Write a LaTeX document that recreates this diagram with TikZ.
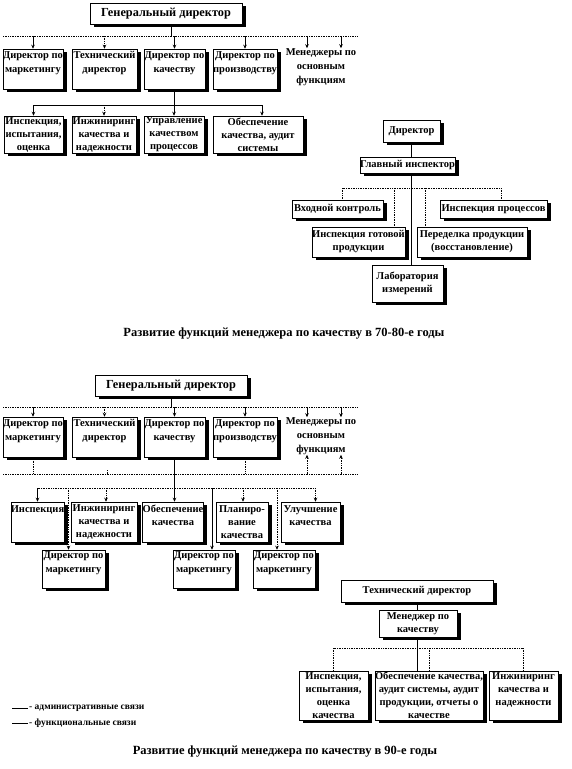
\documentclass[tikz,border=0pt]{standalone}
\usepackage{fontspec}
\setmainfont{Liberation Serif}
\usetikzlibrary{arrows.meta,shadows,backgrounds,calc}
\newcommand\bxfont{\fontsize{10.5}{13}\selectfont\bfseries}
\newcommand\rowfont{\fontsize{10.5}{14}\selectfont\bfseries}
\newcommand\bigfont{\fontsize{12.3}{14}\selectfont\bfseries}
\newcommand\capfont{\fontsize{12.5}{14}\selectfont\bfseries}
\newcommand\lgfont{\fontsize{9.5}{10}\selectfont\bfseries}
\newcommand\mybox[7][]{\node[bx,#1,minimum width={(#5)-(#3)},minimum height={(#6)-(#4)}] (#2) at ({((#3)+(#5))/2},{((#4)+(#6))/2}) {#7};}
\begin{document}
\begin{tikzpicture}[x=1pt,y=-1pt,
  bx/.style={draw=black,line width=0.5pt,fill=white,inner sep=0pt,align=center,font=\bxfont,
    drop shadow={shadow xshift=4pt,shadow yshift=-3pt,opacity=1,fill=black}},
  ln/.style={line width=0.7pt},
  dl/.style={line width=0.7pt,densely dotted},
  ar/.style={-{Stealth[length=4pt,width=3.5pt]}},
  txt/.style={align=center,font=\rowfont,inner sep=0pt}]
\path[use as bounding box] (0,0) rectangle (572,769);

% ===== Diagram 1 =====
\mybox[font=\bigfont]{gd1}{90}{3}{242}{24}{Генеральный директор}
\mybox[font=\rowfont]{m1}{3}{49}{63}{89}{Директор по\\маркетингу\\~}
\mybox[font=\rowfont]{m2}{72}{49}{137}{89}{Технический\\директор\\~}
\mybox[font=\rowfont]{m3}{144}{49}{205}{89}{Директор по\\качеству\\~}
\mybox[font=\rowfont]{m4}{213}{49}{277}{89}{Директор по\\производству\\~}
\node[txt] (mf1) at (321,67) {Менеджеры по\\основным\\функциям};
\mybox{i1}{4}{116}{63}{153}{Инспекция,\\испытания,\\оценка}
\mybox{i2}{72}{116}{136}{153}{Инжиниринг\\качества и\\надежности}
\mybox{i3}{144}{116}{204}{153}{Управление\\качеством\\процессов}
\mybox{i4}{213}{116}{303}{153}{Обеспечение\\качества, аудит\\системы}

\mybox{d}{383}{120}{440}{142}{Директор}
\mybox{gi}{360}{157}{455}{173}{Главный инспектор}
\mybox{vk}{292}{200}{383}{218}{Входной контроль}
\mybox{ip}{440}{200}{547}{218}{Инспекция процессов}
\mybox{ig}{312}{227}{405}{257}{Инспекция готовой\\продукции}
\mybox{pp}{417}{227}{527}{257}{Переделка продукции\\(восстановление)}
\mybox{lab}{372}{265}{443}{302}{Лаборатория\\измерений}

\node[font=\capfont] (cap1) at (284,334) {Развитие  функций менеджера по качеству в 70-80-е  годы};

% ===== Diagram 2 =====
\mybox[font=\bigfont]{gd2}{95}{375}{247}{396}{Генеральный директор}
\mybox[font=\rowfont]{n1}{3}{417}{63}{457}{Директор по\\маркетингу\\~}
\mybox[font=\rowfont]{n2}{72}{417}{137}{457}{Технический\\директор\\~}
\mybox[font=\rowfont]{n3}{144}{417}{205}{457}{Директор по\\качеству\\~}
\mybox[font=\rowfont]{n4}{213}{417}{277}{457}{Директор по\\производству\\~}
\node[txt] (mf2) at (321,436) {Менеджеры по\\основным\\функциям};

\mybox{p1}{11}{502}{64}{542}{Инспекция\\~\\~}
\mybox{p2}{71}{502}{137}{542}{Инжиниринг\\качества и\\надежности}
\mybox{p3}{143}{502}{203}{542}{Обеспечение\\качества\\~}
\mybox{p4}{216}{502}{268}{542}{Планиро-\\вание\\качества}
\mybox{p5}{281}{502}{340}{542}{Улучшение\\качества\\~}

\mybox[font=\rowfont]{q1}{42}{550}{105}{588}{Директор по\\маркетингу\\~}
\mybox[font=\rowfont]{q2}{173}{550}{235}{588}{Директор по\\маркетингу\\~}
\mybox[font=\rowfont]{q3}{253}{550}{315}{588}{Директор по\\маркетингу\\~}

\mybox{td}{341}{580}{493}{602}{Технический директор}
\mybox{mq}{379}{610}{457}{637}{Менеджер по\\качеству}
\mybox{r1}{299}{671}{368}{720}{Инспекция,\\испытания,\\оценка\\качества}
\mybox{r2}{376}{671}{482}{720}{Обеспечение качества,\\аудит системы, аудит\\продукции, отчеты о\\качестве}
\mybox{r3}{489}{671}{558}{720}{Инжиниринг\\качества и\\надежности\\~}

\node[font=\lgfont,anchor=west,inner sep=1pt] (lg1) at (28,708) {- административные связи};
\node[font=\lgfont,anchor=west,inner sep=1pt] (lg2) at (28,723) {- функциональные связи};
\coordinate (lg1a) at (12,708);
\coordinate (lg2a) at (12,723);

\node[font=\capfont] (cap2) at (285,752) {Развитие  функций менеджера по качеству в 90-е годы};

% ===== connectors =====
\begin{scope}[on background layer]
% diagram 1 top
\coordinate (b1L) at (3,36); \coordinate (b1R) at (357,36);
\coordinate (gd1c) at ([xshift=5pt]gd1.south);
\draw[dl] (b1L) -- (b1R);
\draw[ln] (gd1c) -- (gd1c |- b1L);
\draw[ln,ar] (m1.north |- b1L) -- (m1.north);
\draw[dl,ar] (m2.north |- b1L) -- (m2.north);
\draw[ln,ar] (m3.north |- b1L) -- (m3.north);
\draw[ln,ar] (m4.north |- b1L) -- (m4.north);
\coordinate (mfa) at ([xshift=-14pt]mf1.north);
\coordinate (mfb) at ([xshift=20pt]mf1.north);
\draw[ln,ar] (mfa |- b1L) -- (mfa);
\draw[ln,ar] (mfb |- b1L) -- (mfb);
% diagram 1 second level
\coordinate (b2) at (0,105);
\draw[ln] (m3.south) -- (m3.south |- b2);
\draw[ln] (i1.north |- b2) -- ([xshift=4pt]i4.north |- b2);
\draw[ln,ar] (i1.north |- b2) -- (i1.north);
\draw[dl,ar] (i2.north |- b2) -- (i2.north);
\draw[ln,ar] (i3.north |- b2) -- (i3.north);
\draw[ln,ar] ([xshift=4pt]i4.north |- b2) -- ([xshift=4pt]i4.north);
% right diagram
\draw[ln] (d.south) -- (d.south |- lab.north);
\coordinate (b3) at (0,188);
\coordinate (vkc) at ([xshift=5pt]vk.north);
\coordinate (ipc) at ([xshift=8pt]ip.north);
\coordinate (igc) at ([xshift=36pt]ig.north);
\coordinate (ppc) at ([xshift=-47pt]pp.north);
\draw[dl] (vkc |- b3) -- (ipc |- b3);
\draw[dl] (vkc |- b3) -- (vkc);
\draw[dl] (ipc |- b3) -- (ipc);
\draw[dl] (igc |- b3) -- (igc);
\draw[dl] (ppc |- b3) -- (ppc);
% diagram 2 top
\coordinate (c1L) at (3,407); \coordinate (c1R) at (357,407);
\draw[dl] (c1L) -- (c1R);
\draw[ln] (gd2.south) -- (gd2.south |- c1L);
\draw[ln,ar] (n1.north |- c1L) -- (n1.north);
\draw[dl,ar] (n2.north |- c1L) -- (n2.north);
\draw[ln,ar] (n3.north |- c1L) -- (n3.north);
\draw[ln,ar] (n4.north |- c1L) -- (n4.north);
\coordinate (mfc) at ([xshift=-14pt]mf2.north);
\coordinate (mfd) at ([xshift=20pt]mf2.north);
\draw[ln,ar] (mfc |- c1L) -- (mfc);
\draw[ln,ar] (mfd |- c1L) -- (mfd);
% diagram 2 feedback bus
\coordinate (c2L) at (3,474); \coordinate (c2R) at (357,474);
\draw[dl] (c2L) -- (c2R);
\draw[dl] (n1.south) -- (n1.south |- c2L);
\draw[dl] ([xshift=3pt]n2.south |- c2L) -- ++(0,-4);
\draw[dl] (n4.south) -- (n4.south |- c2L);
\coordinate (mfe) at ([xshift=-14pt]mf2.south);
\coordinate (mff) at ([xshift=20pt]mf2.south);
\draw[dl,ar] (mfe |- c2L) -- (mfe);
\draw[dl,ar] (mff |- c2L) -- (mff);
% diagram 2 third level
\coordinate (c3) at (0,488);
\draw[ln,ar] (n3.south) -- (n3.south |- p3.north);
\draw[dl] (p1.north |- c3) -- ([xshift=5pt]p5.north |- c3);
\draw[ln,ar] (p1.north |- c3) -- (p1.north);
\draw[dl,ar] ([xshift=2pt]p2.north |- c3) -- ([xshift=2pt]p2.north);
\draw[dl,ar] ([xshift=1pt]p4.north |- c3) -- ([xshift=1pt]p4.north);
\draw[dl,ar] ([xshift=5pt]p5.north |- c3) -- ([xshift=5pt]p5.north);
\coordinate (q1c) at ([xshift=-5pt]q1.north);
\coordinate (q2c) at ([xshift=8pt]q2.north);
\coordinate (q3c) at ([xshift=-7pt]q3.north);
\draw[dl,ar] (q1c |- c3) -- (q1c);
\draw[ln,ar] (q2c |- c3) -- (q2c);
\draw[dl,ar] (q3c |- c3) -- (q3c);
% lower right
\draw[ln] (td.south) -- (td.south |- r2.north);
\coordinate (c4) at (0,648);
\draw[dl] (r1.north |- c4) -- (r3.north |- c4);
\draw[dl] (r1.north |- c4) -- (r1.north);
\draw[dl] (r2.north |- c4) -- (r2.north);
\draw[dl] (r3.north |- c4) -- (r3.north);
% legend
\draw[ln] (lg1a) -- (lg1.west);
\draw[ln] (lg2a) -- (lg2.west);
\end{scope}
\end{tikzpicture}
\end{document}
